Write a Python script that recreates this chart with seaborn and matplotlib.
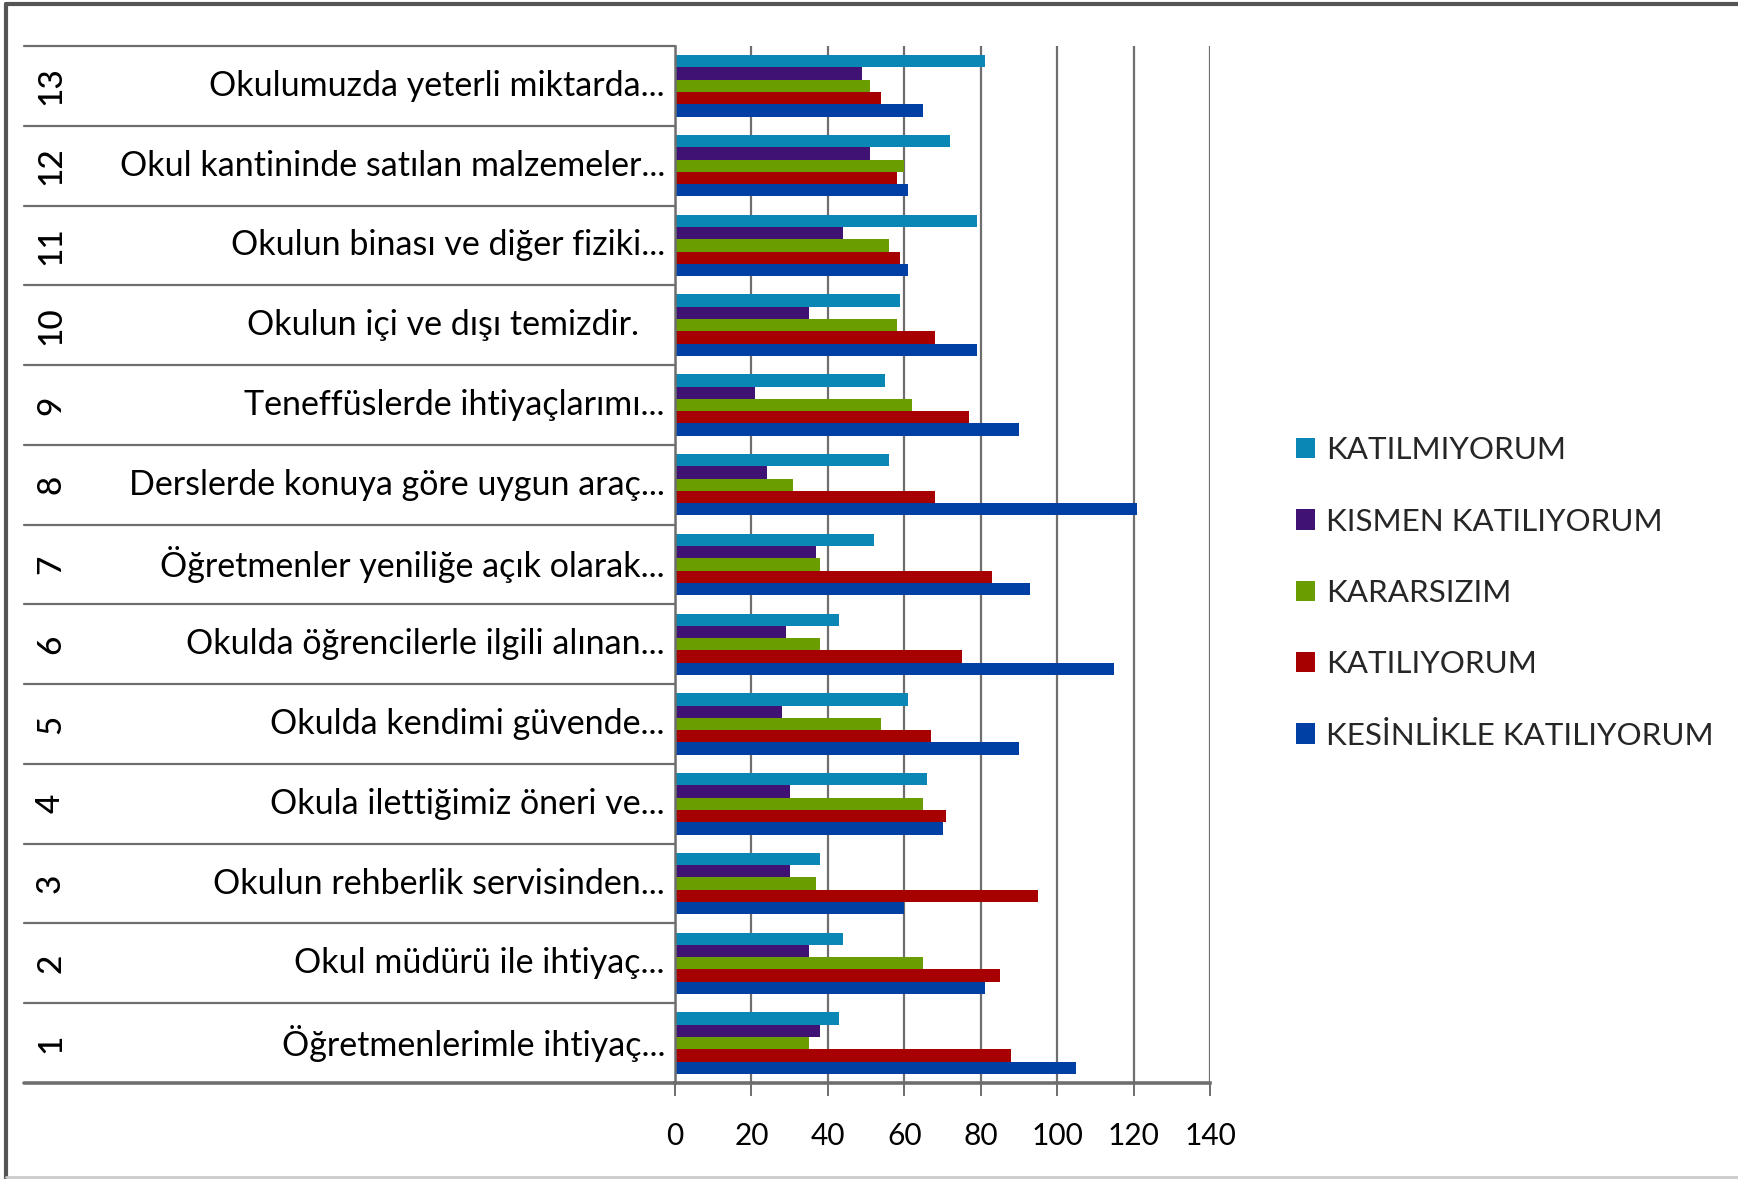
import matplotlib
matplotlib.use('Agg')
import matplotlib.pyplot as plt
import seaborn as sns
import pandas as pd
import numpy as np
from matplotlib.transforms import blended_transform_factory
from matplotlib.lines import Line2D

# ---- data (items 1..13) ----
item_numbers = ['1', '2', '3', '4', '5', '6', '7', '8', '9', '10', '11', '12', '13']
item_labels = [
    'Öğretmenlerimle ihtiyaç...',
    'Okul müdürü ile ihtiyaç...',
    'Okulun rehberlik servisinden...',
    'Okula ilettiğimiz öneri ve...',
    'Okulda kendimi güvende...',
    'Okulda öğrencilerle ilgili alınan...',
    'Öğretmenler yeniliğe açık olarak...',
    'Derslerde konuya göre uygun araç...',
    'Teneffüslerde ihtiyaçlarımı...',
    'Okulun içi ve dışı temizdir.   ',
    'Okulun binası ve diğer fiziki...',
    'Okul kantininde satılan malzemeler...',
    'Okulumuzda yeterli miktarda...',
]
series_names = ['KATILMIYORUM', 'KISMEN KATILIYORUM', 'KARARSIZIM',
                'KATILIYORUM', 'KESİNLİKLE KATILIYORUM']
katilmiyorum = [43, 44, 38, 66, 61, 43, 52, 56, 55, 59, 79, 72, 81]
kismen = [38, 35, 30, 30, 28, 29, 37, 24, 21, 35, 44, 51, 49]
kararsizim = [35, 65, 37, 65, 54, 38, 38, 31, 62, 58, 56, 60, 51]
katiliyorum = [88, 85, 95, 71, 67, 75, 83, 68, 77, 68, 59, 58, 54]
kesinlikle = [105, 81, 60, 70, 90, 115, 93, 121, 90, 79, 61, 61, 65]
series_colors = ['#0A87B4', '#3F1273', '#6A9E00', '#A60000', '#0040A4']

series_values = [katilmiyorum, kismen, kararsizim, katiliyorum, kesinlikle]
rows = []
for name, vals in zip(series_names, series_values):
    for num, v in zip(item_numbers, vals):
        rows.append({'item': num, 'series': name, 'value': v})
df = pd.DataFrame(rows)
order = item_numbers[::-1]

sns.set_theme(style='white')
plt.rcParams['font.family'] = ['Lato', 'DejaVu Sans']

W, H = 1738, 1179
fig = plt.figure(figsize=(W / 100, H / 100), dpi=100)
x0, x1 = 675, 1210
y0, y1 = 46, 1083
ax = fig.add_axes([x0 / W, 1 - y1 / H, (x1 - x0) / W, (y1 - y0) / H])

sns.barplot(data=df, y='item', x='value', hue='series', order=order,
            hue_order=series_names, palette=series_colors, orient='h',
            width=0.77, saturation=1, edgecolor='none', ax=ax)

grid_c = '#6e6e6e'
ax.set_xlim(0, 140)
ax.set_ylim(len(order) - 0.5, -0.5)
ax.set_xticks(range(0, 141, 20))
ax.xaxis.grid(True, color=grid_c, linewidth=1.6)
ax.yaxis.grid(False)
ax.set_axisbelow(True)
for s in ['top', 'right']:
    ax.spines[s].set_visible(False)
for s in ['left', 'bottom']:
    ax.spines[s].set_color(grid_c)
    ax.spines[s].set_linewidth(1.8)
ax.spines['bottom'].set_linewidth(2.6)
ax.tick_params(axis='x', bottom=True, direction='out', length=9, width=1.4,
               color=grid_c, pad=19, labelsize=21.5, labelcolor='black')
ax.tick_params(axis='y', left=False, labelleft=False)
ax.set_xlabel('')
ax.set_ylabel('')

blend = blended_transform_factory(ax.transAxes, ax.transData)
left_frac = (24 - x0) / (x1 - x0)
num_frac = (51 - x0) / (x1 - x0)
lab_frac = (665 - x0) / (x1 - x0)

for b in np.arange(-0.5, len(order), 1.0):
    lw = 2.6 if b == len(order) - 0.5 else 1.6
    ax.plot([left_frac, 0], [b, b], transform=blend, clip_on=False,
            color=grid_c, linewidth=lw)

for num, lab in zip(item_numbers, item_labels):
    pos = order.index(num)
    ax.text(num_frac, pos, num, rotation=90, ha='center', va='center',
            transform=blend, fontsize=24, color='black', fontweight='medium')
    ax.text(lab_frac, pos, lab, ha='right', va='center', transform=blend,
            fontsize=24.5, color='black')

handles, labels = ax.get_legend_handles_labels()
if ax.get_legend() is not None:
    ax.get_legend().remove()
fig.legend(handles, labels, loc='center left',
           bbox_to_anchor=(1296 / W, 1 - 593 / H), frameon=False,
           fontsize=22.6, handlelength=0.62, handleheight=0.62,
           handletextpad=0.35, labelspacing=1.38, borderpad=0,
           borderaxespad=0)

# image frame
fig.add_artist(Line2D([6 / W, 6 / W], [0, 1 - 4 / H], transform=fig.transFigure,
                      color='#555555', linewidth=3))
fig.add_artist(Line2D([6 / W, 1], [1 - 4 / H, 1 - 4 / H], transform=fig.transFigure,
                      color='#555555', linewidth=3))
fig.add_artist(Line2D([6 / W, 1], [2 / H, 2 / H], transform=fig.transFigure,
                      color='#cccccc', linewidth=2))

fig.savefig('out.png', dpi=100)
